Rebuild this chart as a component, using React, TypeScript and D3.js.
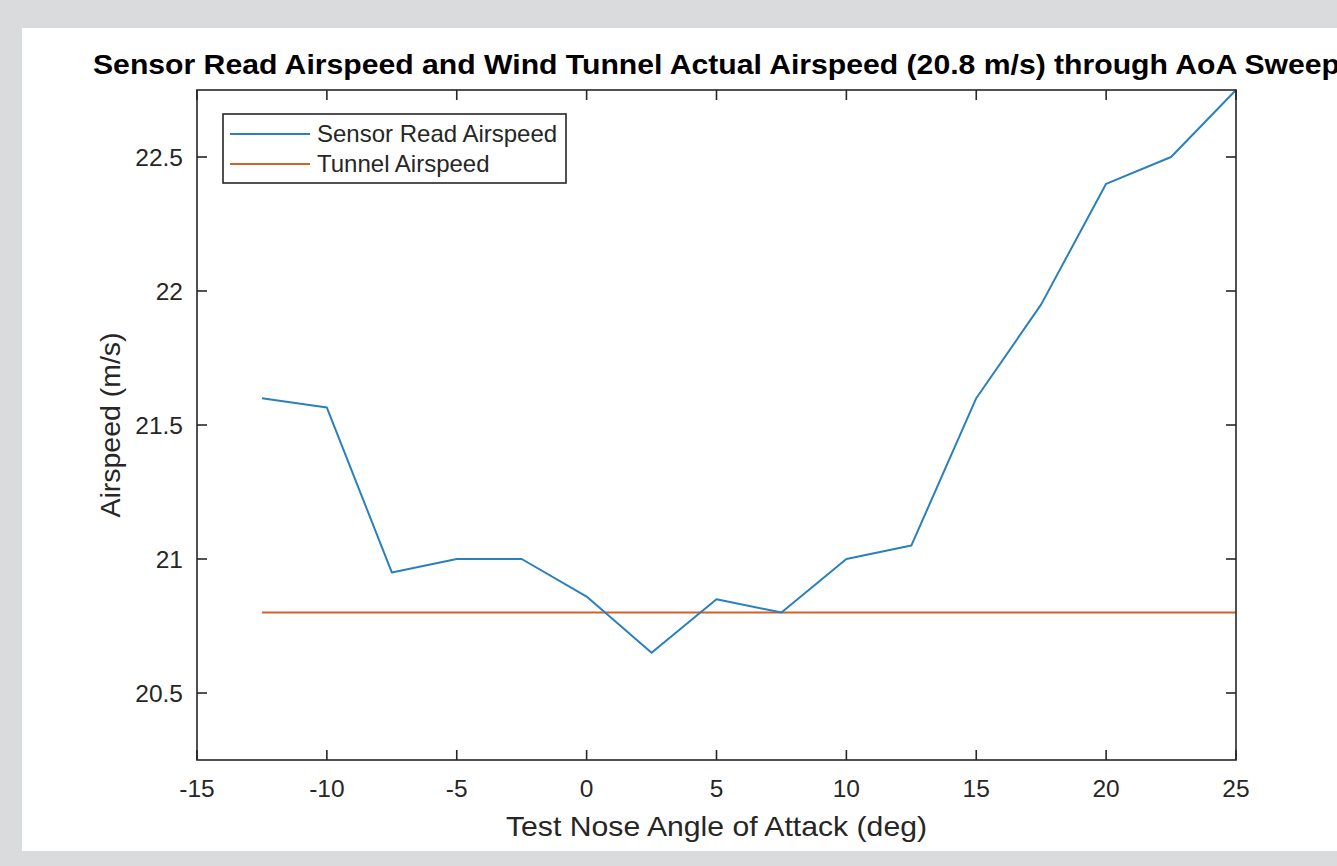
import React, { useEffect, useRef } from 'react';
import * as d3 from 'd3';

// angle of attack sweep (deg)
const aoa = [-12.5, -10, -7.5, -5, -2.5, 0, 2.5, 5, 7.5, 10, 12.5, 15, 17.5, 20, 22.5, 25];
// airspeed read by the sensor (m/s)
const sensorSpeed = [21.6, 21.565, 20.95, 21.0, 21.0, 20.86, 20.65, 20.85, 20.8, 21.0, 21.05, 21.6, 21.95, 22.4, 22.5, 22.75];
// wind tunnel airspeed (m/s)
const tunnelSpeed = [20.8, 20.8, 20.8, 20.8, 20.8, 20.8, 20.8, 20.8, 20.8, 20.8, 20.8, 20.8, 20.8, 20.8, 20.8, 20.8];

const xTicks = [-15, -10, -5, 0, 5, 10, 15, 20, 25];
const yTicks = [20.5, 21, 21.5, 22, 22.5];
const seriesNames = ['Sensor Read Airspeed', 'Tunnel Airspeed'];

const W = 1337;
const H = 866;
const FONT = 'Arial, "Liberation Sans", Helvetica, sans-serif';
const AX = '#262626';
const BLUE = '#2a80bd';
const ORANGE = '#d35f2a';

const App = () => {
  const svgRef = useRef(null);

  useEffect(() => {
    document.body.style.margin = '0';
    const svg = d3.select(svgRef.current);
    svg.selectAll('*').remove();

    const left = 197, right = 1236, top = 90, bottom = 760;
    const x = d3.scaleLinear().domain([-15, 25]).range([left, right]);
    const y = d3.scaleLinear().domain([20.25, 22.75]).range([bottom, top]);

    svg.append('rect').attr('width', W).attr('height', H).attr('fill', '#dadbdd');
    svg.append('rect').attr('x', 22).attr('y', 28).attr('width', W - 22).attr('height', 851 - 28).attr('fill', '#ffffff');

    // series
    const line = d3.line()
      .x((d) => x(d[0]))
      .y((d) => y(d[1]));

    svg.append('path')
      .datum(aoa.map((a, i) => [a, tunnelSpeed[i]]))
      .attr('d', line)
      .attr('fill', 'none')
      .attr('stroke', ORANGE)
      .attr('stroke-width', 2);

    svg.append('path')
      .datum(aoa.map((a, i) => [a, sensorSpeed[i]]))
      .attr('d', line)
      .attr('fill', 'none')
      .attr('stroke', BLUE)
      .attr('stroke-width', 2)
      .attr('stroke-linejoin', 'round');

    // box
    svg.append('rect')
      .attr('x', left).attr('y', top)
      .attr('width', right - left).attr('height', bottom - top)
      .attr('fill', 'none').attr('stroke', AX).attr('stroke-width', 1.6);

    const tickLen = 10;
    const g = svg.append('g').attr('stroke', AX).attr('stroke-width', 1.6);
    xTicks.forEach((t) => {
      g.append('line').attr('x1', x(t)).attr('x2', x(t)).attr('y1', bottom).attr('y2', bottom - tickLen);
      g.append('line').attr('x1', x(t)).attr('x2', x(t)).attr('y1', top).attr('y2', top + tickLen);
    });
    yTicks.forEach((t) => {
      g.append('line').attr('x1', left).attr('x2', left + tickLen).attr('y1', y(t)).attr('y2', y(t));
      g.append('line').attr('x1', right).attr('x2', right - tickLen).attr('y1', y(t)).attr('y2', y(t));
    });

    // tick labels
    svg.append('g').selectAll('text').data(xTicks).enter().append('text')
      .attr('x', (d) => x(d)).attr('y', 797)
      .attr('text-anchor', 'middle')
      .attr('font-family', FONT).attr('font-size', 24.5).attr('fill', AX)
      .text((d) => String(d));

    svg.append('g').selectAll('text').data(yTicks).enter().append('text')
      .attr('x', 183).attr('y', (d) => y(d) + 8.5)
      .attr('text-anchor', 'end')
      .attr('font-family', FONT).attr('font-size', 24.5).attr('fill', AX)
      .text((d) => String(d));

    // axis labels
    svg.append('text')
      .attr('x', (left + right) / 2).attr('y', 836)
      .attr('text-anchor', 'middle')
      .attr('font-family', FONT).attr('font-size', 28).attr('fill', AX)
      .attr('textLength', 421).attr('lengthAdjust', 'spacingAndGlyphs')
      .text('Test Nose Angle of Attack (deg)');

    svg.append('text')
      .attr('transform', `translate(120,${(top + bottom) / 2}) rotate(-90)`)
      .attr('text-anchor', 'middle')
      .attr('font-family', FONT).attr('font-size', 28).attr('fill', AX)
      .attr('textLength', 185).attr('lengthAdjust', 'spacingAndGlyphs')
      .text('Airspeed (m/s)');

    // title
    svg.append('text')
      .attr('x', (left + right) / 2).attr('y', 74)
      .attr('text-anchor', 'middle')
      .attr('font-family', FONT).attr('font-size', 28).attr('font-weight', 'bold').attr('fill', '#000')
      .attr('textLength', 1247).attr('lengthAdjust', 'spacingAndGlyphs')
      .text('Sensor Read Airspeed and Wind Tunnel Actual Airspeed (20.8 m/s) through AoA Sweep');

    // legend
    const lg = svg.append('g');
    lg.append('rect')
      .attr('x', 223).attr('y', 114).attr('width', 343).attr('height', 69)
      .attr('fill', '#fff').attr('stroke', AX).attr('stroke-width', 1.6);
    [BLUE, ORANGE].forEach((c, i) => {
      const ly = 134 + i * 30;
      lg.append('line').attr('x1', 230).attr('x2', 310).attr('y1', ly).attr('y2', ly)
        .attr('stroke', c).attr('stroke-width', 2);
      lg.append('text').attr('x', 317).attr('y', ly + 8)
        .attr('font-family', FONT).attr('font-size', 24).attr('fill', AX)
        .text(seriesNames[i]);
    });
  }, []);

  return <svg ref={svgRef} width={W} height={H} style={{ display: 'block' }}></svg>;
};

export default App;
